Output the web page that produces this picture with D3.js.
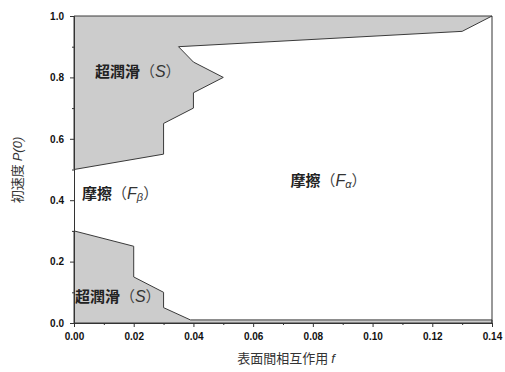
<!DOCTYPE html>
<html lang="ja">
<head>
<meta charset="UTF-8">
<title>Phase diagram</title>
<script src="https://d3js.org/d3.v7.min.js"></script>
<style>
  body { margin: 0; background: #fff; }
  svg { display: block; }
  .tick text { font-family: "Liberation Sans Narrow", "Liberation Sans", Arial, sans-serif; font-weight: bold; font-size: 10px; fill: #111; }
  .lab { font-family: "Noto Sans CJK JP", sans-serif; font-size: 15px; font-weight: bold; fill: #222; }
  .title { font-family: "Noto Sans CJK JP", sans-serif; font-size: 13px; fill: #333; }
</style>
</head>
<body>
<svg width="505" height="372"></svg>
<script>
// region boundaries: f (x) and P(0) (y)
let upperF = [0, 0.14, 0.13, 0.035, 0.04, 0.05, 0.04, 0.04, 0.03, 0.03, 0];
let upperP = [1.0, 1.0, 0.95, 0.90, 0.85, 0.80, 0.75, 0.70, 0.65, 0.55, 0.50];
let lowerF = [0, 0.02, 0.02, 0.03, 0.03, 0.039, 0.14, 0.14, 0];
let lowerP = [0.30, 0.25, 0.15, 0.10, 0.05, 0.01, 0.01, 0, 0];

let xTicks = [0, 0.02, 0.04, 0.06, 0.08, 0.10, 0.12, 0.14];
let yTicks = [0, 0.2, 0.4, 0.6, 0.8, 1.0];

let svg = d3.select('svg');
let margins = {left: 74, right: 13, top: 16, bottom: 49};
let W = 505, H = 372;

let xScale = d3.scaleLinear().domain([0, 0.14]).range([margins.left, W - margins.right]);
let yScale = d3.scaleLinear().domain([0, 1.0]).range([H - margins.bottom, margins.top]);

let line = d3.line().x(d => xScale(d[0])).y(d => yScale(d[1]));
let regions = [d3.zip(upperF, upperP), d3.zip(lowerF, lowerP)];

svg.selectAll('path.region')
  .data(regions)
  .enter().append('path')
  .attr('class', 'region')
  .attr('d', d => line(d) + 'Z')
  .attr('fill', '#cccccc')
  .attr('stroke', '#3a3a3a')
  .attr('stroke-width', 1);

// right frame
svg.append('line')
  .attr('x1', xScale(0.14)).attr('x2', xScale(0.14))
  .attr('y1', yScale(1)).attr('y2', yScale(0))
  .attr('stroke', '#333');

// axes
let xAxis = svg.append('g')
  .attr('transform', 'translate(0,' + yScale(0) + ')')
  .call(d3.axisBottom(xScale).tickValues(xTicks).tickFormat(d3.format('.2f')).tickSize(4).tickPadding(6));
let xMinor = svg.append('g')
  .attr('transform', 'translate(0,' + yScale(0) + ')')
  .call(d3.axisBottom(xScale).tickValues(d3.range(0.01, 0.14, 0.02)).tickFormat('').tickSize(2));
let yAxis = svg.append('g')
  .attr('transform', 'translate(' + xScale(0) + ',0)')
  .call(d3.axisLeft(yScale).tickValues(yTicks).tickFormat(d3.format('.1f')).tickSize(4).tickPadding(6));
let yMinor = svg.append('g')
  .attr('transform', 'translate(' + xScale(0) + ',0)')
  .call(d3.axisLeft(yScale).tickValues(d3.range(0.1, 1.0, 0.2)).tickFormat('').tickSize(2));
[xMinor, yMinor].forEach(g => g.select('.domain').remove());
[xAxis, yAxis, xMinor, yMinor].forEach(g => g.selectAll('line, path').attr('stroke', '#333'));

// region labels
let labels = [
  {f: 0.007, p: 0.80, main: '超潤滑', sym: 'S', sub: ''},
  {f: 0.0027, p: 0.405, main: '摩擦', sym: 'F', sub: 'β'},
  {f: 0.0725, p: 0.445, main: '摩擦', sym: 'F', sub: 'α'},
  {f: 0.0003, p: 0.07, main: '超潤滑', sym: 'S', sub: ''}
];
labels.forEach(l => {
  let t = svg.append('text').attr('class', 'lab')
    .attr('x', xScale(l.f)).attr('y', yScale(l.p));
  t.append('tspan').text(l.main);
  t.append('tspan').attr('font-weight', 'normal').attr('fill', '#444').text('（');
  t.append('tspan').attr('font-weight', 'normal').attr('font-style', 'italic').attr('fill', '#333')
    .attr('font-family', 'Liberation Sans, sans-serif').attr('font-size', 16).text(l.sym);
  if (l.sub) t.append('tspan').attr('font-weight', 'normal').attr('font-style', 'italic').attr('fill', '#333')
    .attr('font-size', 11).attr('dy', 2).attr('font-family', 'Liberation Sans, sans-serif').text(l.sub);
  t.append('tspan').attr('font-weight', 'normal').attr('fill', '#444').attr('dy', l.sub ? -2 : 0).text('）');
});

// axis titles
let xt = svg.append('text').attr('class', 'title')
  .attr('x', (xScale(0) + xScale(0.14)) / 2 + 3).attr('y', 363).attr('text-anchor', 'middle');
xt.append('tspan').text('表面間相互作用 ');
xt.append('tspan').attr('font-style', 'italic').attr('font-family', 'Liberation Sans, sans-serif').text('f');

let yt = svg.append('text').attr('class', 'title')
  .attr('transform', 'translate(22,170) rotate(-90)').attr('text-anchor', 'middle');
yt.append('tspan').text('初速度 ');
yt.append('tspan').attr('font-style', 'italic').attr('font-family', 'Liberation Sans, sans-serif').text('P(0)');
</script>
</body>
</html>
